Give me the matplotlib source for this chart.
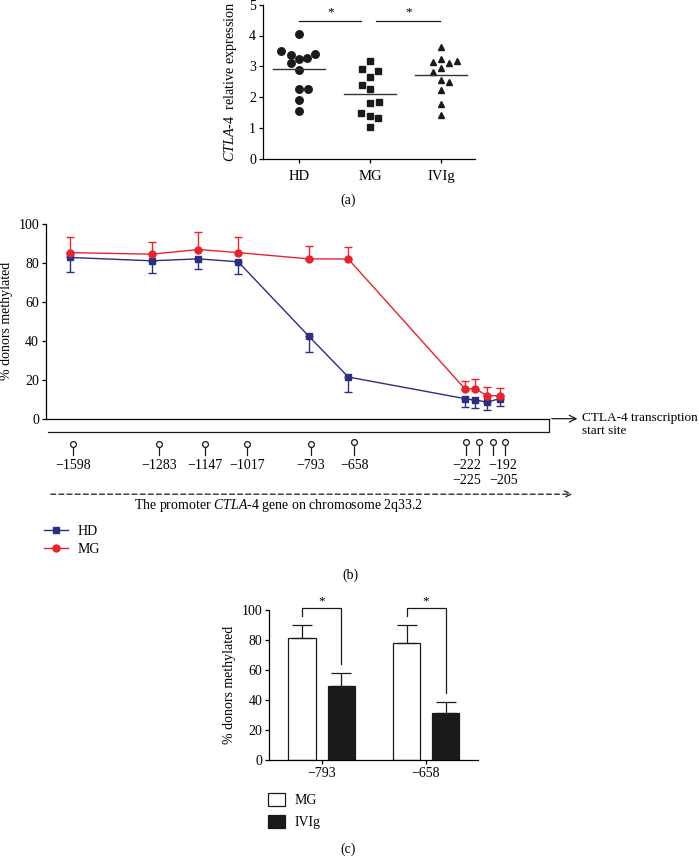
import numpy as np
import matplotlib
matplotlib.use("Agg")
import matplotlib.pyplot as plt
from matplotlib.lines import Line2D
from matplotlib.patches import Patch

plt.rcParams["font.family"] = "Liberation Serif"
plt.rcParams["mathtext.fontset"] = "custom"
plt.rcParams["mathtext.it"] = "Liberation Serif:italic"
plt.rcParams["mathtext.rm"] = "Liberation Serif"
plt.rcParams["font.size"] = 9.5
plt.rcParams["axes.linewidth"] = 0.9
plt.rcParams["xtick.major.width"] = 0.9
plt.rcParams["ytick.major.width"] = 0.9
plt.rcParams["xtick.major.size"] = 3
plt.rcParams["ytick.major.size"] = 3

# ---- data: panel (a) CTLA-4 relative expression
groups_a = ["HD", "MG", "IVIg"]
hd_expr = [4.06, 3.50, 3.36, 3.23, 3.28, 3.40, 3.10, 2.89, 2.25, 2.26, 1.91, 1.56]
mg_expr = [3.17, 2.90, 2.85, 2.65, 2.38, 2.25, 1.80, 1.85, 1.50, 1.40, 1.32, 1.03]
ivig_expr = [3.62, 3.15, 3.25, 3.10, 3.17, 2.81, 2.94, 2.57, 2.49, 2.22, 1.79, 1.41]
# horizontal scatter of the dots (layout)
hd_jit = [0, -0.25, -0.12, 0, 0.11, 0.23, -0.12, 0, 0, 0.12, 0, 0]
mg_jit = [0, -0.11, 0.11, 0, -0.12, 0, 0, 0.12, -0.13, 0, 0.11, 0]
ivig_jit = [0, -0.11, 0, 0.11, 0.23, -0.11, 0, 0, 0.11, 0, 0, 0]

# ---- data: panel (b) % donors methylated per CpG site
cpg_sites = ["\u22121598", "\u22121283", "\u22121147", "\u22121017", "\u2212793", "\u2212658",
             "\u2212225", "\u2212222", "\u2212205", "\u2212192"]
hd_meth = [82.8, 81.1, 82.1, 80.6, 42.5, 21.4, 10.3, 9.5, 8.6, 10.3]
hd_err = [7.7, 6.3, 5.3, 6.2, 8.4, 7.7, 4.1, 3.8, 4.1, 3.8]
mg_meth = [85.3, 84.5, 86.9, 85.3, 82.1, 82.0, 15.3, 15.4, 11.8, 11.8]
mg_err = [7.8, 6.3, 8.9, 7.8, 6.8, 6.4, 4.1, 5.0, 4.7, 4.0]
# positions along the drawn promoter (0..100 = axis width)
point_x = [4.8, 21.0, 30.3, 38.2, 52.2, 60.1, 83.3, 85.3, 87.7, 90.3]
lolli_x = [5.3, 22.4, 31.7, 40.0, 52.7, 61.3, 83.5, 86.1, 88.8, 91.3]

# ---- data: panel (c)
c_sites = ["\u2212793", "\u2212658"]
c_mg = [81.5, 78.2]
c_mg_err = [8.5, 11.8]
c_ivig = [49.3, 31.1]
c_ivig_err = [8.5, 7.8]

W, H = 699, 867
fig = plt.figure(figsize=(W / 100, H / 100), dpi=100)


def box(l, t, r, b):
    return [l / W, 1 - b / H, (r - l) / W, (b - t) / H]


def clean(ax):
    ax.spines["top"].set_visible(False)
    ax.spines["right"].set_visible(False)
    ax.tick_params(direction="out", pad=2)


# ================= panel (a)
axa = fig.add_axes(box(263, 4.7, 475, 158.7))
clean(axa)
for i, (vals, jit, mk) in enumerate([(hd_expr, hd_jit, "o"), (mg_expr, mg_jit, "s"),
                                     (ivig_expr, ivig_jit, "^")]):
    xs = i + np.array(jit)
    axa.plot(xs, vals, mk, color="#1a1a1a", ms=5.4 if mk == "o" else 5.0, ls="none", clip_on=False)
    m = np.mean(vals)
    axa.plot([i - 0.37, i + 0.37], [m, m], color="#333333", lw=1.0)
axa.set_xlim(-0.51, 2.48)
axa.set_ylim(0, 5)
axa.set_yticks([0, 1, 2, 3, 4, 5])
axa.set_xticks([0, 1, 2])
axa.set_xticklabels(groups_a)
axa.tick_params(axis="x", pad=5, labelsize=10.5)
axa.tick_params(axis="y", labelsize=10)
axa.set_ylabel("$\\mathit{CTLA}$-4  relative expression", labelpad=7, fontsize=10.2)
axa.plot([0, 0.87], [4.47, 4.47], color="#1a1a1a", lw=0.9, clip_on=False)
axa.plot([1.08, 1.99], [4.47, 4.47], color="#1a1a1a", lw=0.9, clip_on=False)
axa.text(0.45, 4.55, "*", ha="center", va="bottom", fontsize=9.5)
axa.text(1.54, 4.55, "*", ha="center", va="bottom", fontsize=9.5)
fig.text(348 / W, 1 - 200 / H, "(a)", ha="center", va="center", fontsize=10)

# ================= panel (b)
blue = "#28307f"
red = "#e8232b"
axb = fig.add_axes(box(46, 224, 549, 418.7))
axb.spines["top"].set_visible(False)
axb.spines["right"].set_visible(False)
axb.tick_params(axis="y", direction="out", pad=2, labelsize=10)
axb.set_xlim(0, 100)
axb.set_ylim(0, 100)
axb.set_xticks([])
axb.set_yticks([0, 20, 40, 60, 80, 100])
axb.set_ylabel("% donors methylated", labelpad=4, fontsize=10)

zeros = np.zeros(len(hd_meth))
axb.errorbar(point_x, hd_meth, yerr=[hd_err, zeros], color=blue, lw=1.0, marker="s", ms=4.2,
             capsize=3.2, elinewidth=1.0, capthick=1.0, label="HD", clip_on=False)
axb.errorbar(point_x, mg_meth, yerr=[zeros, mg_err], color=red, lw=1.0, marker="o", ms=5.0,
             capsize=3.2, elinewidth=1.0, capthick=1.0, label="MG", clip_on=False)

k = 100 / 194.7  # data units per pixel vertically
y_box = -13.3 * k
axb.plot([0.4, 100, 100], [y_box, y_box, 0], color="#1a1a1a", lw=0.9, clip_on=False)
axb.annotate("", xy=(106.2, 0), xytext=(100, 0),
             arrowprops=dict(arrowstyle="->", lw=0.9, color="#1a1a1a", mutation_scale=12),
             annotation_clip=False)
axb.text(106.6, -6 * k, "CTLA-4 transcription\nstart site", ha="left", va="center",
         fontsize=9.5, linespacing=1.15, clip_on=False)

circ_y = [-25 * k] * 5 + [-23 * k] + [-23.5 * k] * 4
for x, cy in zip(lolli_x, circ_y):
    axb.plot([x, x], [cy, -36 * k], color="#1a1a1a", lw=0.9, clip_on=False)
    axb.plot([x], [cy], "o", ms=4.2, mfc="white", mec="#1a1a1a", mew=0.9, clip_on=False)
for x, lab in zip(lolli_x[:6], cpg_sites[:6]):
    axb.text(x, -46.5 * k, lab, ha="center", va="center", fontsize=10)
axb.text(83.6, -46.5 * k, cpg_sites[7], ha="center", va="center", fontsize=10)
axb.text(83.6, -61.5 * k, cpg_sites[6], ha="center", va="center", fontsize=10)
axb.text(90.9, -46.5 * k, cpg_sites[9], ha="center", va="center", fontsize=10)
axb.text(90.9, -61.5 * k, cpg_sites[8], ha="center", va="center", fontsize=10)

axb.annotate("", xy=(105.2, -75.5 * k), xytext=(0.4, -75.5 * k),
             arrowprops=dict(arrowstyle="->", lw=0.9, ls=(0, (4, 2.5)), color="#1a1a1a",
                             mutation_scale=12),
             annotation_clip=False)
axb.text(46.2, -86.5 * k, "The promoter $\\mathit{CTLA}$-4 gene on chromosome 2q33.2",
         ha="center", va="center", fontsize=10)

fig.legend(handles=[Line2D([], [], color=blue, marker="s", ms=4.2, lw=1.0),
                    Line2D([], [], color=red, marker="o", ms=5.0, lw=1.0)],
           labels=["HD", "MG"], loc="upper left", bbox_to_anchor=(44 / W, 1 - 525 / H),
           frameon=False, borderpad=0, borderaxespad=0, handlelength=1.7,
           handletextpad=0.7, labelspacing=0.35, fontsize=10)
fig.text(350 / W, 1 - 575 / H, "(b)", ha="center", va="center", fontsize=10)

# ================= panel (c)
axc = fig.add_axes(box(269.3, 610, 478.3, 760))
clean(axc)
axc.tick_params(labelsize=10)
xc = np.arange(len(c_sites))
off = 0.187
bw = 0.26
axc.bar(xc - off, c_mg, bw, yerr=[[0, 0], c_mg_err], color="white", edgecolor="#1a1a1a",
        lw=0.9, error_kw=dict(capsize=7, elinewidth=0.9, capthick=0.9, ecolor="#1a1a1a"))
axc.bar(xc + off, c_ivig, bw, yerr=[[0, 0], c_ivig_err], color="#1a1a1a", edgecolor="#1a1a1a",
        lw=0.9, error_kw=dict(capsize=7, elinewidth=0.9, capthick=0.9, ecolor="#1a1a1a"))
for i in range(len(c_sites)):
    y_left = c_mg[i] + c_mg_err[i] + 6
    y_right = c_ivig[i] + c_ivig_err[i] + 6
    axc.plot([i - off, i - off, i + off, i + off], [y_left, 101.5, 101.5, y_right],
             color="#1a1a1a", lw=0.9, clip_on=False)
    axc.text(i, 102, "*", ha="center", va="bottom", fontsize=9.5)
axc.set_xlim(-0.5, 1.5)
axc.set_ylim(0, 100)
axc.set_yticks([0, 20, 40, 60, 80, 100])
axc.set_xticks(xc)
axc.set_xticklabels(c_sites)
axc.set_ylabel("% donors methylated", labelpad=4, fontsize=10)

fig.legend(handles=[Patch(facecolor="white", edgecolor="#1a1a1a", lw=0.9),
                    Patch(facecolor="#1a1a1a", edgecolor="#1a1a1a", lw=0.9)],
           labels=["MG", "IVIg"], loc="upper left", bbox_to_anchor=(268 / W, 1 - 793 / H),
           frameon=False, borderpad=0, borderaxespad=0, handlelength=1.2, handleheight=1.1,
           handletextpad=0.7, labelspacing=0.55, fontsize=10)
fig.text(348 / W, 1 - 849 / H, "(c)", ha="center", va="center", fontsize=10)

fig.savefig("out.png", dpi=100)
